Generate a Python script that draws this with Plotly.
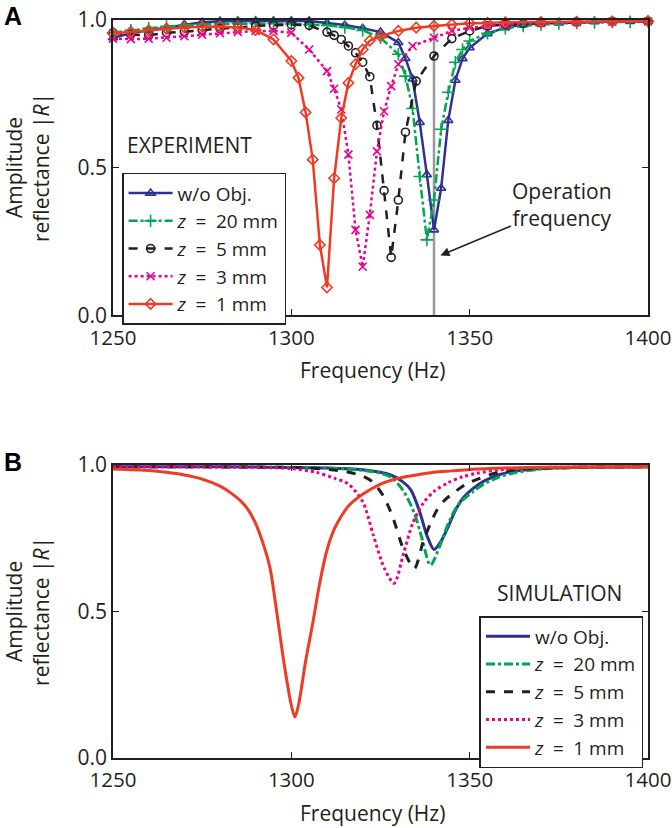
import plotly.graph_objects as go

# ---------------- EXPERIMENT (panel A) ----------------
exp_wo_f = [1250,1255,1260,1265,1270,1275,1280,1285,1290,1295,1300,1305,1310,1315,1320,1325,1330,1332,1334,1336,1338,1340,1342,1344,1346,1348,1350,1355,1360,1365,1370,1375,1380,1385,1390,1395,1400]
exp_wo_r = [0.94,0.955,0.965,0.974,0.985,0.992,0.996,0.997,0.997,0.997,0.997,0.997,0.99,0.983,0.972,0.959,0.924,0.87,0.80,0.653,0.476,0.289,0.43,0.66,0.796,0.869,0.906,0.954,0.974,0.985,0.988,0.99,0.993,0.994,0.995,0.995,0.996]

exp_z20_f = [1250,1255,1260,1265,1270,1275,1280,1285,1290,1295,1300,1305,1310,1315,1320,1325,1330,1332,1334,1336,1338,1340,1342,1344,1346,1348,1350,1355,1360,1365,1370,1375,1380,1385,1390,1395,1400]
exp_z20_r = [0.957,0.965,0.972,0.978,0.982,0.985,0.987,0.988,0.988,0.988,0.987,0.985,0.982,0.975,0.965,0.94,0.884,0.81,0.70,0.47,0.255,0.39,0.63,0.755,0.857,0.90,0.929,0.955,0.972,0.98,0.985,0.988,0.99,0.992,0.993,0.994,0.995]

exp_z5_f = [1250,1255,1260,1265,1270,1275,1280,1285,1290,1295,1300,1305,1310,1312,1314,1316,1318,1320,1322,1324,1326,1328,1330,1332,1335,1340,1345,1350,1355,1360,1365,1370,1380,1390,1400]
exp_z5_r = [0.957,0.951,0.948,0.957,0.96,0.966,0.971,0.974,0.98,0.982,0.984,0.982,0.959,0.948,0.934,0.912,0.889,0.857,0.808,0.643,0.422,0.196,0.39,0.62,0.793,0.878,0.937,0.963,0.98,0.985,0.988,0.99,0.993,0.995,0.996]

exp_z3_f = [1250,1255,1260,1265,1270,1275,1280,1285,1290,1295,1300,1305,1310,1312,1314,1316,1318,1320,1322,1324,1326,1328,1330,1334,1340,1345,1350,1355,1360,1370,1380,1390,1400]
exp_z3_r = [0.937,0.935,0.937,0.94,0.945,0.95,0.955,0.96,0.963,0.963,0.957,0.90,0.827,0.767,0.697,0.544,0.289,0.164,0.34,0.555,0.691,0.776,0.85,0.912,0.94,0.963,0.974,0.98,0.985,0.99,0.993,0.994,0.995]

exp_z1_f = [1250,1255,1260,1265,1270,1275,1280,1285,1290,1295,1300,1302,1304,1306,1308,1310,1312,1314,1316,1318,1320,1322,1325,1330,1335,1340,1345,1350,1355,1360,1370,1380,1390,1400]
exp_z1_r = [0.955,0.96,0.965,0.97,0.975,0.977,0.978,0.975,0.966,0.934,0.861,0.804,0.687,0.527,0.238,0.094,0.464,0.668,0.787,0.85,0.90,0.93,0.945,0.963,0.974,0.98,0.985,0.989,0.99,0.992,0.993,0.994,0.995,0.996]

# ---------------- SIMULATION (panel B) ----------------
sim_wo_f = [1250,1270,1290,1310,1320,1325,1328,1331,1333.5,1336,1338,1340,1342,1344,1346,1348,1351,1354,1358,1362,1370,1380,1400]
sim_wo_r = [0.994,0.994,0.993,0.99,0.984,0.975,0.965,0.945,0.915,0.84,0.76,0.712,0.74,0.79,0.845,0.885,0.92,0.945,0.966,0.978,0.988,0.992,0.994]

sim_z20_f = [1250,1270,1290,1310,1320,1325,1328,1331.5,1334.5,1336.5,1339,1341.5,1344,1346,1348,1351,1354,1358,1362,1370,1380,1400]
sim_z20_r = [0.994,0.994,0.993,0.99,0.982,0.972,0.958,0.91,0.835,0.755,0.658,0.72,0.8,0.85,0.88,0.91,0.935,0.958,0.972,0.986,0.991,0.994]

sim_z5_f = [1250,1270,1290,1305,1315,1320,1323,1326,1328.5,1331.5,1334.5,1337,1339,1341,1343,1345.5,1349,1353,1358,1365,1380,1400]
sim_z5_r = [0.994,0.994,0.993,0.99,0.978,0.962,0.94,0.89,0.82,0.71,0.647,0.74,0.8,0.85,0.88,0.905,0.935,0.955,0.975,0.986,0.992,0.994]

sim_z3_f = [1250,1270,1290,1300,1307,1312,1316,1320,1323,1326,1328.8,1331.5,1334,1337,1340,1344,1348,1352,1358,1365,1380,1400]
sim_z3_r = [0.994,0.994,0.992,0.988,0.975,0.955,0.935,0.875,0.76,0.65,0.596,0.7,0.8,0.87,0.91,0.94,0.96,0.972,0.983,0.99,0.993,0.994]

sim_z1_f = [1250,1260,1265,1270,1275,1280,1283,1286,1288,1290,1292,1294,1296,1298,1300,1301,1302,1304,1306,1308,1310,1312,1314,1316,1320,1325,1330,1335,1340,1345,1350,1360,1380,1400]
sim_z1_r = [0.986,0.981,0.975,0.966,0.952,0.928,0.905,0.875,0.845,0.80,0.735,0.65,0.49,0.32,0.18,0.14,0.18,0.33,0.46,0.6,0.71,0.78,0.825,0.86,0.9,0.935,0.955,0.966,0.975,0.98,0.985,0.99,0.993,0.994]

EQ = "\u2002=\u2002"
labels = ["w/o Obj.", "<i>z</i>" + EQ + "20 mm", "<i>z</i>" + EQ + "5 mm", "<i>z</i>" + EQ + "3 mm", "<i>z</i>" + EQ + "1 mm"]
colors = ["#2e3192", "#00a651", "#231f20", "#ec008c", "#ef3b24"]
dashes = ["solid", "dashdot", "dash", "dot", "solid"]
symbols = ["triangle-up-open", "cross-thin", "circle-open", "x-thin", "diamond-open"]

exp_f = [exp_wo_f, exp_z20_f, exp_z5_f, exp_z3_f, exp_z1_f]
exp_r = [exp_wo_r, exp_z20_r, exp_z5_r, exp_z3_r, exp_z1_r]
sim_f = [sim_wo_f, sim_z20_f, sim_z5_f, sim_z3_f, sim_z1_f]
sim_r = [sim_wo_r, sim_z20_r, sim_z5_r, sim_z3_r, sim_z1_r]

FONT = "Open Sans"
TXT = "#231f20"
FS = 21

fig = go.Figure()
for i in range(5):
    fig.add_trace(go.Scatter(
        x=exp_f[i], y=exp_r[i], mode="lines+markers", name=labels[i],
        line=dict(color=colors[i], width=2.5, dash=dashes[i]),
        marker=dict(symbol=symbols[i], size=8 if i != 1 else 9, color=colors[i],
                    line=dict(color=colors[i], width=1.6)),
        xaxis="x", yaxis="y", legend="legend", cliponaxis=False))
for i in range(5):
    fig.add_trace(go.Scatter(
        x=sim_f[i], y=sim_r[i], mode="lines", name=labels[i],
        line=dict(color=colors[i], width=3, dash=dashes[i], shape="spline", smoothing=0.8),
        xaxis="x2", yaxis="y2", legend="legend2"))

axis_common = dict(
    showline=True, linecolor="#231f20", linewidth=1.5, mirror="ticks",
    ticks="inside", ticklen=6, tickwidth=1.2, tickcolor="#231f20",
    showgrid=False, zeroline=False, automargin=False,
)
xcommon = dict(range=[1250, 1400], tickvals=[1250, 1300, 1350, 1400], ticklabelstandoff=3,
               tickfont=dict(family=FONT, size=20.5, color=TXT), **axis_common)
ycommon = dict(range=[0, 1], tickvals=[0, 0.5, 1.0], tickformat=".1f",
               tickfont=dict(family=FONT, size=FS, color=TXT), **axis_common)

leg_common = dict(xanchor="left", yanchor="top",
                  bordercolor="#231f20", borderwidth=1.5, bgcolor="white",
                  font=dict(family=FONT, size=19, color=TXT), itemwidth=44,
                  tracegroupgap=0, itemclick=False, itemdoubleclick=False)

fig.update_layout(
    width=672, height=828,
    margin=dict(l=113, r=24, t=20, b=70, autoexpand=False),
    paper_bgcolor="white", plot_bgcolor="white",
    font=dict(family=FONT, size=FS, color=TXT),
    xaxis=dict(domain=[0, 1], anchor="y", **xcommon),
    yaxis=dict(domain=[0.6, 1.0], anchor="x", **ycommon),
    xaxis2=dict(domain=[0, 1], anchor="y2", **xcommon),
    yaxis2=dict(domain=[0, 0.397], anchor="x2", **ycommon),
    legend=dict(x=0.017, y=0.793, **leg_common),
    legend2=dict(x=0.685, y=0.1924, **leg_common),
    showlegend=True,
)

# operation frequency line
fig.add_shape(type="line", xref="x", yref="y domain", x0=1340, x1=1340, y0=0, y1=1,
              line=dict(color="#9a9a9a", width=2.5), layer="below")

ann = [
    dict(text="EXPERIMENT", xref="paper", yref="paper", x=0.022, y=0.83, xanchor="left", yanchor="middle", showarrow=False),
    dict(text="SIMULATION", xref="paper", yref="paper", x=0.834, y=0.2236, xanchor="center", yanchor="middle", showarrow=False),
    dict(text="<b>A</b>", xref="paper", yref="paper", x=-0.208, y=1.006, xanchor="left", yanchor="middle", showarrow=False,
         font=dict(family="Liberation Sans", size=25, color="black")),
    dict(text="<b>B</b>", xref="paper", yref="paper", x=-0.208, y=0.401, xanchor="left", yanchor="middle", showarrow=False,
         font=dict(family="Liberation Sans", size=25, color="black")),
    dict(text="Amplitude<br>reflectance |<i>R</i>|", xref="paper", yref="paper", x=-0.16, y=0.8, textangle=-90,
         xanchor="center", yanchor="middle", showarrow=False),
    dict(text="Amplitude<br>reflectance |<i>R</i>|", xref="paper", yref="paper", x=-0.16, y=0.1985, textangle=-90,
         xanchor="center", yanchor="middle", showarrow=False),
    dict(text="Frequency (Hz)", xref="paper", yref="paper", x=0.485, y=0.526, xanchor="center", yanchor="middle", showarrow=False),
    dict(text="Frequency (Hz)", xref="paper", yref="paper", x=0.485, y=-0.0745, xanchor="center", yanchor="middle", showarrow=False),
    dict(text="Operation<br>frequency", xref="x", yref="y", x=1341.3, y=0.2, ax=1376, ay=0.375, axref="x", ayref="y",
         showarrow=True, arrowhead=2, arrowsize=1.2, arrowwidth=1.5, arrowcolor="#231f20", standoff=2),
]
for a in ann:
    fig.add_annotation(**a)

fig.write_html("out.html")
